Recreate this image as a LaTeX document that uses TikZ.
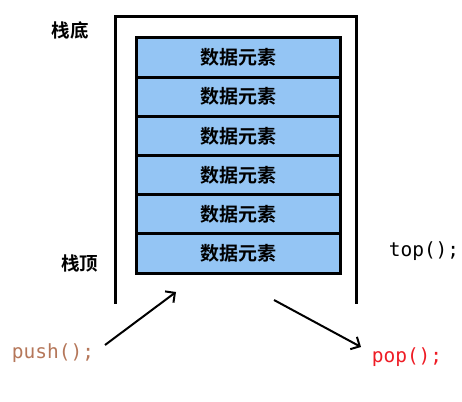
\documentclass[tikz,border=0pt]{standalone}
\usepackage{fontspec}
\newfontfamily\cjk{Noto Sans CJK SC Bold}
\newfontfamily\mono{DejaVu Sans Mono}
\usetikzlibrary{arrows.meta}
\definecolor{boxblue}{HTML}{94C5F4}
\definecolor{pushc}{HTML}{B5775A}
\definecolor{popc}{HTML}{EE1C25}
\begin{document}
\begin{tikzpicture}[x=1pt,y=1pt,
  elem/.style={draw=black,line width=3pt,fill=boxblue,minimum width=204.5pt,minimum height=39.2pt,inner sep=0pt,font=\cjk\fontsize{19}{19}\selectfont,anchor=north west},
  lbl/.style={font=\cjk\fontsize{18.5}{18.5}\selectfont,inner sep=0pt},
  code/.style={font=\mono\fontsize{19.5}{19.5}\selectfont,inner sep=0pt},
  arr/.style={line width=2pt,-{Straight Barb[length=7pt,width=14pt,line width=2pt]}}]
\useasboundingbox (0,0) rectangle (462,401);
\draw[line width=3pt] (115.5,97) -- (115.5,384.5) -- (356.5,384.5) -- (356.5,97);
\foreach \i in {0,...,5}{
  \node[elem] (e\i) at (134.8,{364.5-39.2*\i}) {数据元素};
}
\node[lbl] (bottom) at (70,371) {栈底};
\node[lbl] (topl) at (79.5,138) {栈顶};
\node[code] (top) at (424,150) {top();};
\node[code,text=pushc] (push) at (53,48) {push();};
\node[code,text=popc] (pop) at (407,44) {pop();};
\coordinate (pushs) at (105,56);
\coordinate (pushe) at (176,109);
\coordinate (pops) at (274,101);
\coordinate (pope) at (361,54);
\draw[arr] (pushs) -- (pushe);
\draw[arr] (pops) -- (pope);
\end{tikzpicture}
\end{document}
